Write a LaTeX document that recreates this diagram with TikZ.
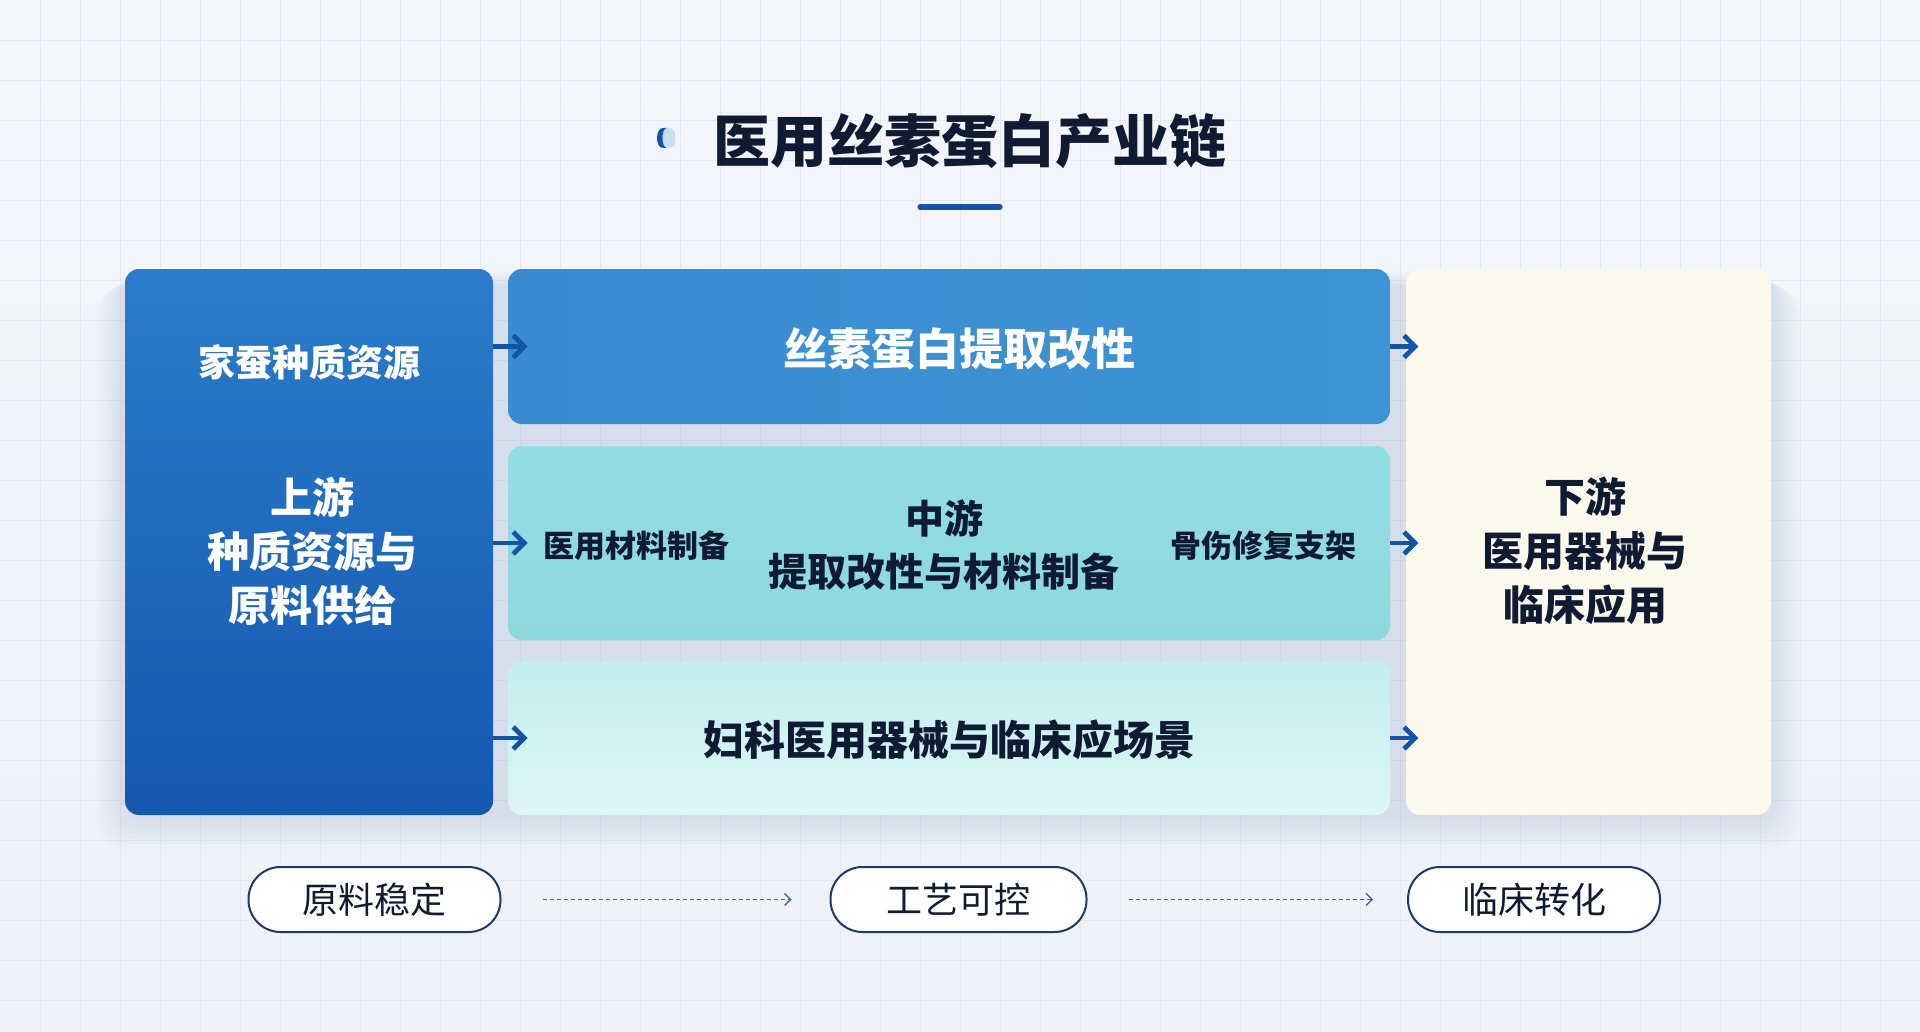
\documentclass[tikz,border=0pt]{standalone}
\usepackage{fontspec}
\newfontfamily\cjk{Noto Sans CJK SC}
\usetikzlibrary{arrows.meta}
\definecolor{bgc}{HTML}{EEF2F9}
\definecolor{bgtop}{HTML}{F3F6FB}
\definecolor{gridc}{HTML}{E4E9F2}
\definecolor{navy}{HTML}{0F1B33}
\definecolor{arrc}{HTML}{1553A8}
\definecolor{pillc}{HTML}{1B3A6B}
\definecolor{dashc}{HTML}{3F6CA8}
\definecolor{lTop}{HTML}{2B7DCB}
\definecolor{lBot}{HTML}{1457AF}
\definecolor{tL}{HTML}{3A8CD0}
\definecolor{tR}{HTML}{3D93D4}
\definecolor{mTop}{HTML}{93DEE3}
\definecolor{mBot}{HTML}{8ED8DC}
\definecolor{bTop}{HTML}{C2EEF0}
\definecolor{bBot}{HTML}{DDF6F4}
\definecolor{cream}{HTML}{FBF8EC}
\definecolor{iconL}{HTML}{C9DDF5}
\definecolor{shc}{HTML}{8A9CC0}
\tikzset{
  box/.style={rectangle, rounded corners=7pt, inner sep=0pt, draw=none},
  wtxt/.style={font=\cjk\bfseries, text=white, align=center},
  dtxt/.style={font=\cjk\bfseries, text=navy, align=center},
  arr/.style={draw=arrc, line width=2.4pt, -{Straight Barb[length=5.5pt,width=11pt,line width=2.4pt]}},
  pill/.style={rectangle, rounded corners=16pt, draw=pillc, line width=1pt, fill=white, minimum width=126pt, minimum height=32.5pt, font=\cjk\fontsize{18}{20}\selectfont, text=navy},
  darr/.style={draw=dashc, line width=0.6pt, dash pattern=on 2pt off 1.5pt, -{Straight Barb[length=3pt,width=6pt,line width=0.7pt]}},
  shadowbox/.style={fill=shc, opacity=0.035, rounded corners=14pt}
}
\begin{document}
\begin{tikzpicture}[x=0.5pt,y=-0.5pt]
\useasboundingbox (0,0) rectangle (1920,1032);
\shade[top color=bgtop, bottom color=bgc] (0,0) rectangle (1920,1032);
\foreach \gx in {40,80,...,1900} \draw[gridc, line width=0.35pt] (\gx,0) -- (\gx,1032);
\foreach \gy in {40,80,...,1020} \draw[gridc, line width=0.35pt] (0,\gy) -- (1920,\gy);
% soft shadow
\foreach \s in {4,8,...,28} {
  \fill[shadowbox] (125-\s,269+\s*0.6) rectangle (1771+\s,815+\s*1.2);
}
% title
\node[fill=iconL, rounded corners=3pt, minimum width=6pt, minimum height=10pt, inner sep=0pt] (icon) at (669,138) {};
\fill[arrc] (663,128) .. controls (655,128) and (655,148) .. (663,148) -- (667,148) .. controls (661,148) and (661,128) .. (667,128) -- cycle;
\node[font=\cjk\bfseries\fontsize{28.5}{32}\selectfont, text=navy] (title) at (970,141) {医用丝素蛋白产业链};
\draw[arrc, line width=2.6pt, line cap=round] (920,207) -- (1000,207);
% boxes
\node[box, minimum width=184pt, minimum height=273pt, top color=lTop, bottom color=lBot] (L) at (309,542) {};
\node[box, minimum width=441pt, minimum height=77.5pt, left color=tL, right color=tR] (T) at (949,346.5) {};
\node[box, minimum width=441pt, minimum height=97pt, top color=mTop, bottom color=mBot] (M) at (949,543) {};
\node[box, minimum width=441pt, minimum height=77pt, top color=bTop, bottom color=bBot] (B) at (949,738) {};
\node[box, minimum width=182.5pt, minimum height=273pt, fill=cream] (R) at (1588.5,542) {};
% texts
\node[wtxt, font=\cjk\bfseries\fontsize{18.5}{22}\selectfont] (l1) at (309,362) {家蚕种质资源};
\node[wtxt, font=\cjk\bfseries\fontsize{21}{27}\selectfont] (l2) at (312,551) {上游\\种质资源与\\原料供给};
\node[wtxt, font=\cjk\bfseries\fontsize{22}{26}\selectfont] (t1) at (959,349) {丝素蛋白提取改性};
\node[dtxt, font=\cjk\bfseries\fontsize{19.5}{26.5}\selectfont] (m1) at (944,545) {中游\\提取改性与材料制备};
\node[dtxt, font=\cjk\bfseries\fontsize{15.5}{18}\selectfont] (m2) at (636,546) {医用材料制备};
\node[dtxt, font=\cjk\bfseries\fontsize{15.5}{18}\selectfont] (m3) at (1263,546) {骨伤修复支架};
\node[dtxt, font=\cjk\bfseries\fontsize{20.5}{24}\selectfont] (b1) at (949,740) {妇科医用器械与临床应场景};
\node[dtxt, font=\cjk\bfseries\fontsize{20.5}{27}\selectfont] (r1) at (1585,551) {下游\\医用器械与\\临床应用};
% arrows
\draw[arr] (L.east |- T.west) -- ([xshift=10pt]T.west);
\draw[arr] (L.east |- M.west) -- ([xshift=10pt]M.west);
\draw[arr] (L.east |- B.west) -- ([xshift=10pt]B.west);
\draw[arr] (T.east) -- ([xshift=14pt]T.east);
\draw[arr] (M.east) -- ([xshift=14pt]M.east);
\draw[arr] (B.east) -- ([xshift=14pt]B.east);
% pills
\node[pill] (p1) at (374.5,899.5) {原料稳定};
\node[pill, minimum width=128pt] (p2) at (958.5,899.5) {工艺可控};
\node[pill] (p3) at (1534,899.5) {临床转化};
\draw[darr] ([xshift=20.5pt]p1.east) -- ([xshift=-19pt]p2.west);
\draw[darr] ([xshift=20.5pt]p2.east) -- ([xshift=-17pt]p3.west);
\end{tikzpicture}
\end{document}
